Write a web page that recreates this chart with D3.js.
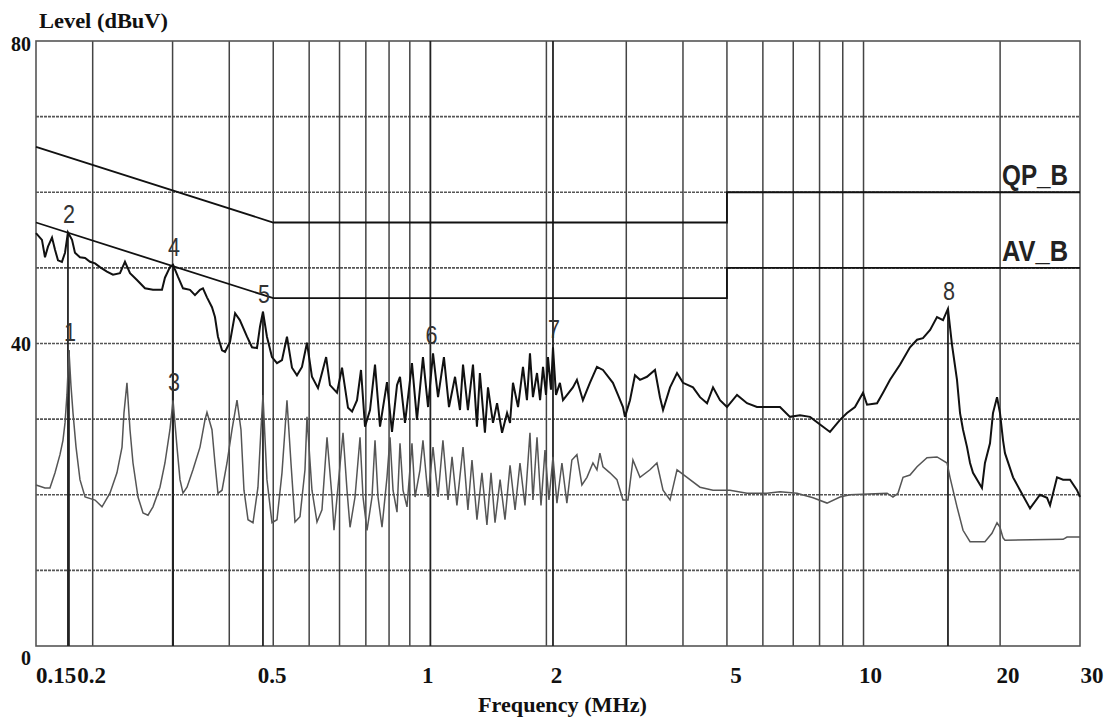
<!DOCTYPE html>
<html lang="en">
<head>
<meta charset="utf-8">
<title>Level vs Frequency</title>
<script src="https://cdn.jsdelivr.net/npm/d3@7"></script>
<style>
  body { margin: 0; background: #fff; }
  svg { display: block; }
</style>
</head>
<body>
<script>

// limit lines (MHz, dBuV)
var qpLimit = [[0.15, 66], [0.5, 56], [5, 56], [5, 60], [30, 60]];
var avLimit = [[0.15, 56], [0.5, 46], [5, 46], [5, 50], [30, 50]];

// quasi-peak trace
var qpTrace = [
  [0.15, 54.6], [0.1546, 53.7], [0.157, 51.4], [0.1594, 52.8], [0.1627, 54.0], [0.1652, 52.4],
  [0.1677, 51.0], [0.1711, 50.8], [0.1738, 52.0], [0.1764, 54.7], [0.1801, 53.7], [0.1828, 52.0],
  [0.1875, 51.4], [0.1924, 51.3], [0.1973, 50.8], [0.2024, 50.6], [0.2075, 50.1], [0.215, 49.5],
  [0.2217, 49.1], [0.2297, 49.3], [0.2356, 50.8], [0.2417, 49.3], [0.2504, 48.4], [0.2608, 47.3],
  [0.2716, 47.1], [0.2843, 47.1], [0.2886, 48.7], [0.296, 50.1], [0.3007, 50.4], [0.3084, 48.8],
  [0.3163, 47.3], [0.3277, 47.1], [0.3361, 46.4], [0.3448, 47.1], [0.35, 47.3], [0.3572, 46.1],
  [0.3664, 44.8], [0.372, 43.5], [0.3777, 40.9], [0.3856, 39.1], [0.3915, 38.9], [0.4015, 40.2],
  [0.412, 44.0], [0.422, 43.1], [0.4377, 40.9], [0.4489, 39.5], [0.4604, 39.4], [0.4674, 42.2],
  [0.4746, 44.2], [0.4843, 40.9], [0.4968, 38.2], [0.5096, 37.4], [0.5227, 37.8], [0.5361, 40.9],
  [0.5499, 36.8], [0.564, 35.8], [0.5785, 36.9], [0.5934, 40.1], [0.6086, 35.6], [0.6275, 34.1],
  [0.6403, 36.1], [0.654, 38.2], [0.6669, 34.5], [0.691, 33.5], [0.7089, 36.8], [0.7308, 31.5],
  [0.746, 31.0], [0.765, 32.5], [0.7806, 36.5], [0.7966, 29.0], [0.8171, 31.2], [0.8381, 37.2],
  [0.8596, 29.0], [0.8906, 34.9], [0.9136, 28.3], [0.9371, 34.5], [0.9514, 35.6], [0.9758, 29.5],
  [0.991, 32.9], [1.011, 37.4], [1.037, 29.9], [1.069, 38.2], [1.097, 31.6], [1.125, 38.7],
  [1.154, 32.9], [1.189, 38.2], [1.22, 31.6], [1.258, 35.6], [1.29, 31.2], [1.31, 37.2],
  [1.343, 31.2], [1.378, 37.2], [1.406, 29.0], [1.427, 36.1], [1.464, 28.2], [1.487, 34.2],
  [1.525, 29.5], [1.557, 32.1], [1.597, 28.2], [1.638, 30.8], [1.663, 29.5], [1.688, 34.8],
  [1.732, 31.6], [1.776, 36.9], [1.812, 32.5], [1.84, 38.7], [1.868, 32.9], [1.907, 36.1],
  [1.937, 32.5], [1.966, 36.9], [1.996, 33.2], [2.016, 38.2], [2.047, 33.9], [2.068, 39.5],
  [2.1, 33.2], [2.142, 34.8], [2.176, 32.5], [2.288, 34.2], [2.335, 35.2], [2.407, 32.5],
  [2.494, 34.8], [2.585, 36.9], [2.665, 36.5], [2.803, 34.8], [2.876, 33.2], [2.95, 31.6],
  [2.98, 30.3], [3.057, 32.5], [3.135, 35.8], [3.216, 35.2], [3.332, 35.6], [3.47, 36.5],
  [3.559, 32.9], [3.615, 31.2], [3.746, 34.2], [3.881, 36.1], [4.001, 34.8], [4.209, 34.2],
  [4.361, 32.9], [4.52, 32.1], [4.659, 34.2], [4.827, 32.5], [5.001, 31.6], [5.262, 33.2],
  [5.536, 32.1], [5.823, 31.6], [6.126, 31.6], [6.545, 31.6], [6.885, 30.3], [7.243, 30.5],
  [7.622, 30.3], [8.143, 29.0], [8.435, 28.3], [8.874, 29.9], [9.195, 30.8], [9.576, 31.6],
  [9.975, 33.5], [10.18, 31.9], [10.71, 32.1], [11.04, 33.5], [11.44, 35.2], [12.03, 37.2],
  [12.66, 39.5], [13.12, 40.5], [13.52, 40.7], [14.02, 41.8], [14.52, 43.5], [14.97, 43.1],
  [15.35, 44.6], [15.67, 39.8], [16.07, 35.2], [16.32, 30.8], [16.57, 28.6], [16.91, 26.3],
  [17.17, 24.2], [17.43, 22.9], [18.24, 20.9], [18.52, 24.2], [19.0, 26.8], [19.29, 30.8],
  [19.69, 32.9], [19.99, 30.8], [20.3, 27.2], [20.5, 25.5], [21.36, 22.3], [22.13, 20.6],
  [23.28, 18.2], [24.49, 20.0], [25.38, 19.6], [25.77, 18.6], [26.7, 22.3], [27.53, 22.0],
  [28.52, 22.0], [29.55, 20.6], [30, 19.7]
];

// average trace
var avTrace = [
  [0.15, 21.3], [0.157, 20.9], [0.161, 20.9], [0.1652, 22.9], [0.1694, 25.3], [0.172, 27.2],
  [0.1738, 29.5], [0.1755, 33.2], [0.1773, 39.1], [0.1791, 34.5], [0.181, 30.8], [0.1838, 26.3],
  [0.1875, 22.0], [0.1924, 19.7], [0.2024, 19.3], [0.2097, 18.4], [0.2183, 20.2], [0.2262, 22.9],
  [0.2321, 26.3], [0.2344, 30.8], [0.238, 34.8], [0.2417, 28.6], [0.2454, 24.2], [0.2517, 19.7],
  [0.2582, 17.6], [0.2648, 17.3], [0.2716, 18.4], [0.2814, 21.0], [0.2886, 24.2], [0.296, 28.6],
  [0.3007, 32.5], [0.3068, 26.3], [0.3115, 22.0], [0.3163, 20.2], [0.3228, 21.0], [0.3327, 23.3],
  [0.3448, 26.3], [0.3536, 29.9], [0.3572, 30.9], [0.3664, 28.6], [0.372, 24.2], [0.3777, 20.2],
  [0.3856, 20.6], [0.3954, 24.2], [0.4056, 28.6], [0.416, 32.5], [0.4245, 28.6], [0.431, 20.6],
  [0.4399, 16.7], [0.4512, 16.3], [0.4627, 21.0], [0.4698, 28.6], [0.4746, 33.2], [0.4843, 22.0],
  [0.4968, 16.3], [0.5096, 16.7], [0.5227, 22.9], [0.5307, 28.6], [0.5361, 32.5], [0.5471, 24.2],
  [0.5583, 16.4], [0.5727, 17.1], [0.5874, 23.3], [0.5934, 30.3], [0.6086, 20.6], [0.6243, 16.4],
  [0.6403, 18.0], [0.6569, 27.6], [0.6737, 19.7], [0.6806, 15.3], [0.6945, 21.0], [0.7125, 28.2],
  [0.7271, 20.6], [0.7383, 15.7], [0.7572, 19.7], [0.7767, 27.6], [0.7886, 19.7], [0.8048, 15.3],
  [0.8254, 19.7], [0.8381, 27.2], [0.8509, 19.7], [0.8684, 15.7], [0.8906, 22.3], [0.9044, 27.6],
  [0.9183, 20.6], [0.9371, 17.7], [0.9514, 26.8], [0.966, 20.6], [0.9858, 18.4], [1.011, 26.8],
  [1.027, 19.7], [1.053, 23.3], [1.069, 27.2], [1.097, 19.7], [1.125, 26.3], [1.154, 19.7],
  [1.183, 27.2], [1.214, 19.3], [1.239, 25.0], [1.27, 18.6], [1.31, 26.3], [1.343, 18.0],
  [1.371, 24.6], [1.406, 16.7], [1.442, 22.9], [1.479, 16.0], [1.51, 22.9], [1.541, 16.3],
  [1.581, 22.0], [1.621, 16.7], [1.663, 23.9], [1.706, 18.0], [1.749, 24.2], [1.794, 18.6],
  [1.84, 28.2], [1.868, 19.3], [1.907, 27.6], [1.946, 18.6], [1.986, 25.9], [2.026, 19.3],
  [2.068, 25.0], [2.11, 18.9], [2.164, 24.2], [2.219, 18.9], [2.276, 24.6], [2.335, 25.3],
  [2.395, 21.3], [2.457, 22.3], [2.533, 24.2], [2.585, 23.3], [2.624, 25.5], [2.665, 23.7],
  [2.761, 22.9], [2.861, 22.0], [2.95, 19.3], [3.026, 19.3], [3.103, 24.6], [3.216, 22.3],
  [3.383, 23.3], [3.505, 24.2], [3.615, 20.6], [3.746, 19.3], [3.881, 23.3], [4.083, 22.3],
  [4.361, 21.0], [4.659, 20.6], [5.078, 20.6], [5.536, 20.2], [6.126, 20.2], [6.545, 20.4],
  [7.134, 20.2], [7.739, 19.6], [8.309, 18.9], [8.874, 19.7], [9.337, 20.0], [11.27, 20.2],
  [11.61, 19.7], [11.91, 20.2], [12.22, 22.3], [12.66, 22.6], [13.12, 23.7], [13.8, 24.9],
  [14.52, 25.0], [15.28, 24.2], [15.51, 22.3], [16.07, 18.4], [16.57, 15.3], [17.17, 13.8],
  [18.52, 13.8], [19.19, 14.9], [19.69, 16.3], [19.99, 15.7], [20.3, 14.3], [20.5, 14.0],
  [27.53, 14.1], [28.09, 14.4], [30, 14.4]
];

// markers
var markerNo = [1, 2, 3, 4, 5, 6, 7, 8];
var markerFreq = [0.1773, 0.1764, 0.3007, 0.3007, 0.4746, 1.11, 2.068, 15.35];
var markerLevel = [39.1, 54.7, 32.5, 50.4, 44.2, 38.7, 39.5, 44.6];

// grid and ticks
var gridFreq = [0.2, 0.3, 0.4, 0.5, 0.6, 0.7, 0.8, 0.9, 1, 2, 3, 4, 5, 6, 7, 8, 9, 10, 20];
var gridLevel = [10, 20, 30, 40, 50, 60, 70];
var xTicks = [0.15, 0.2, 0.5, 1, 2, 5, 10, 20, 30];
var yTicks = [0, 40, 80];

var width = 1106;
var height = 722;

var x = d3.scaleLog().domain([0.15, 30]).range([36, 1080]);
var y = d3.scaleLinear().domain([0, 80]).range([646, 41]);

// label nudges, the original puts some tick labels off their grid line
var xTickShift = {0.15: 20, 0.2: -1, 0.5: -1, 1: 18, 2: 10, 5: 9, 10: 7, 20: 8, 30: 12};
var yTickShift = {0: 19, 40: 7, 80: 10};
var fullMarkers = [6, 7];

var svg = d3.select("body").append("svg")
  .attr("width", width)
  .attr("height", height);

var serif = "'Liberation Serif', 'Times New Roman', serif";
var sans = "'Liberation Sans', Arial, sans-serif";

// grid
svg.selectAll("line.hgrid").data(gridLevel).enter()
  .append("line")
  .attr("class", "hgrid")
  .attr("x1", x(0.15)).attr("x2", x(30))
  .attr("y1", function(d) { return y(d); })
  .attr("y2", function(d) { return y(d); })
  .attr("stroke", "#555")
  .attr("stroke-width", 1.6)
  .attr("stroke-dasharray", "3,1");

svg.selectAll("line.vgrid").data(gridFreq).enter()
  .append("line")
  .attr("class", "vgrid")
  .attr("x1", function(d) { return x(d); })
  .attr("x2", function(d) { return x(d); })
  .attr("y1", y(80)).attr("y2", y(0))
  .attr("stroke", "#444")
  .attr("stroke-width", 1.5);

svg.append("rect")
  .attr("x", x(0.15)).attr("y", y(80))
  .attr("width", x(30) - x(0.15))
  .attr("height", y(0) - y(80))
  .attr("fill", "none")
  .attr("stroke", "#555")
  .attr("stroke-width", 1.6);

// marker lines
svg.selectAll("line.marker").data(markerNo).enter()
  .append("line")
  .attr("class", "marker")
  .attr("x1", function(d, i) { return x(markerFreq[i]); })
  .attr("x2", function(d, i) { return x(markerFreq[i]); })
  .attr("y1", function(d, i) { return fullMarkers.indexOf(d) >= 0 ? y(80) : y(markerLevel[i]); })
  .attr("y2", y(0))
  .attr("stroke", "#222")
  .attr("stroke-width", 1.8);

var line = d3.line()
  .x(function(d) { return x(d[0]); })
  .y(function(d) { return y(d[1]); });

svg.append("path").datum(avTrace)
  .attr("d", line)
  .attr("fill", "none")
  .attr("stroke", "#555")
  .attr("stroke-width", 1.5);

svg.append("path").datum(qpTrace)
  .attr("d", line)
  .attr("fill", "none")
  .attr("stroke", "#111")
  .attr("stroke-width", 2);

svg.selectAll("path.limit").data([qpLimit, avLimit]).enter()
  .append("path")
  .attr("class", "limit")
  .attr("d", line)
  .attr("fill", "none")
  .attr("stroke", "#111")
  .attr("stroke-width", 1.8);

// marker numbers
svg.selectAll("text.mk").data(markerNo).enter()
  .append("text")
  .attr("class", "mk")
  .attr("x", function(d, i) { return x(markerFreq[i]) + 1; })
  .attr("y", function(d, i) { return y(markerLevel[i]) - 9; })
  .attr("text-anchor", "middle")
  .attr("font-family", sans)
  .attr("font-size", 26)
  .attr("fill", "#333")
  .attr("textLength", 12)
  .attr("lengthAdjust", "spacingAndGlyphs")
  .text(function(d) { return d; });

// limit names
svg.selectAll("text.lim").data([["QP_B", 60], ["AV_B", 50]]).enter()
  .append("text")
  .attr("class", "lim")
  .attr("x", x(20) + 2)
  .attr("y", function(d) { return y(d[1]) - 7; })
  .attr("font-family", sans)
  .attr("font-weight", "bold")
  .attr("font-size", 29)
  .attr("fill", "#222")
  .attr("textLength", 66)
  .attr("lengthAdjust", "spacingAndGlyphs")
  .text(function(d) { return d[0]; });

// axis text
svg.selectAll("text.xt").data(xTicks).enter()
  .append("text")
  .attr("class", "xt")
  .attr("x", function(d) { return x(d) + xTickShift[d]; })
  .attr("y", 683)
  .attr("text-anchor", "middle")
  .attr("font-family", serif)
  .attr("font-weight", "bold")
  .attr("font-size", 23)
  .attr("fill", "#111")
  .text(function(d) { return d; });

svg.selectAll("text.yt").data(yTicks).enter()
  .append("text")
  .attr("class", "yt")
  .attr("x", 31)
  .attr("y", function(d) { return y(d) + yTickShift[d]; })
  .attr("text-anchor", "end")
  .attr("font-family", serif)
  .attr("font-weight", "bold")
  .attr("font-size", 20)
  .attr("fill", "#111")
  .text(function(d) { return d; });

svg.append("text")
  .attr("x", 39).attr("y", 28)
  .attr("font-family", serif)
  .attr("font-weight", "bold")
  .attr("font-size", 22)
  .attr("fill", "#111")
  .attr("textLength", 129)
  .attr("lengthAdjust", "spacingAndGlyphs")
  .text("Level (dBuV)");

svg.append("text")
  .attr("x", 478).attr("y", 712)
  .attr("font-family", serif)
  .attr("font-weight", "bold")
  .attr("font-size", 22)
  .attr("fill", "#111")
  .attr("textLength", 169)
  .attr("lengthAdjust", "spacingAndGlyphs")
  .text("Frequency (MHz)");

</script>
</body>
</html>
